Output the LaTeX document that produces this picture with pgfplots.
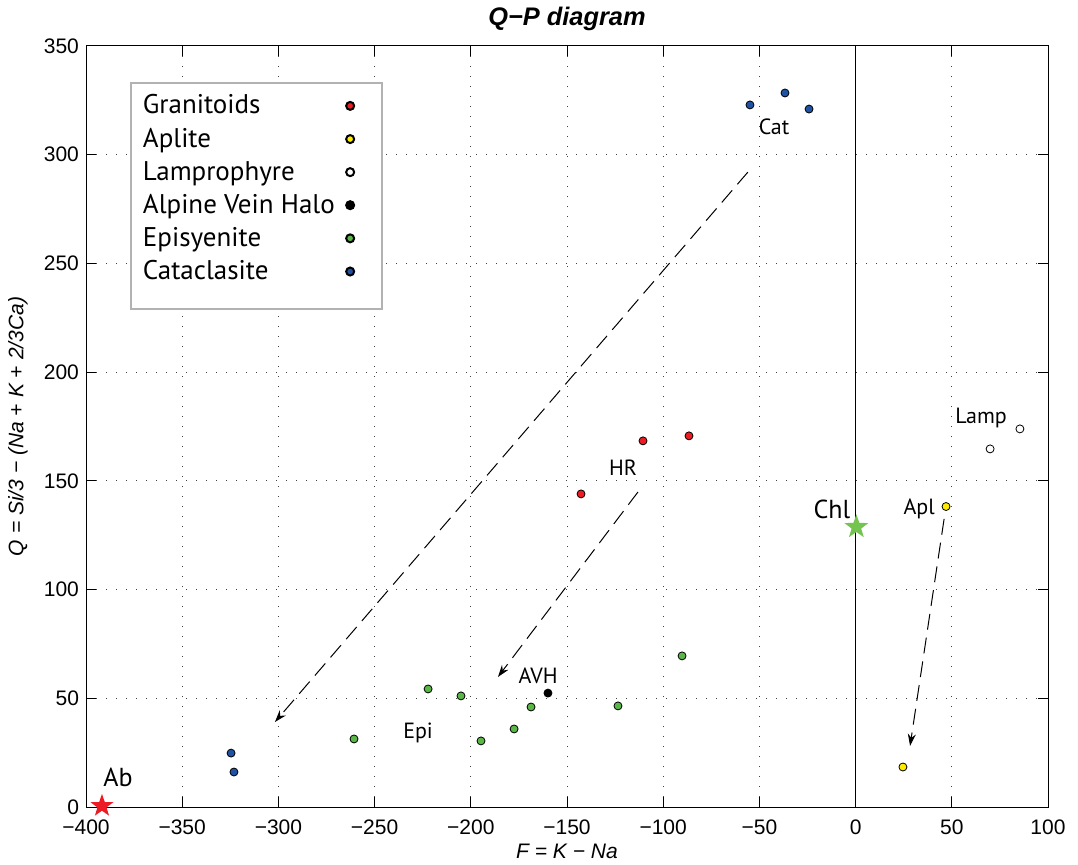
\documentclass[border=0pt]{standalone}
\usepackage{pgfplots}
\pgfplotsset{compat=1.18}
\usepackage{fontspec}
\setmainfont{Liberation Sans}
\newfontfamily\myr{PT Sans}
\usetikzlibrary{arrows.meta}
\definecolor{cred}{RGB}{237,28,36}
\definecolor{cyel}{RGB}{255,236,0}
\definecolor{cgrn}{RGB}{90,182,70}
\definecolor{cblu}{RGB}{32,82,164}
\definecolor{cstarg}{RGB}{118,196,80}
\pgfdeclareplotmark{fstar}{%
  \pgfpathmoveto{\pgfpointpolar{90}{\pgfplotmarksize}}%
  \pgfpathlineto{\pgfpointpolar{126}{0.40\pgfplotmarksize}}%
  \pgfpathlineto{\pgfpointpolar{162}{\pgfplotmarksize}}%
  \pgfpathlineto{\pgfpointpolar{198}{0.40\pgfplotmarksize}}%
  \pgfpathlineto{\pgfpointpolar{234}{\pgfplotmarksize}}%
  \pgfpathlineto{\pgfpointpolar{270}{0.40\pgfplotmarksize}}%
  \pgfpathlineto{\pgfpointpolar{306}{\pgfplotmarksize}}%
  \pgfpathlineto{\pgfpointpolar{342}{0.40\pgfplotmarksize}}%
  \pgfpathlineto{\pgfpointpolar{18}{\pgfplotmarksize}}%
  \pgfpathlineto{\pgfpointpolar{54}{0.40\pgfplotmarksize}}%
  \pgfpathclose
  \pgfusepathqfill}
\begin{document}
\begin{tikzpicture}
\begin{axis}[
  scale only axis,
  width=481pt, height=380.5pt,
  xmin=-400, xmax=100, ymin=0, ymax=350,
  clip=false,
  xtick={-400,-350,...,100},
  xticklabels={−400,−350,−300,−250,−200,−150,−100,−50,0,50,100},
  ytick={0,50,...,350},
  yticklabels={0,50,100,150,200,250,300,350},
  tick align=inside,
  major tick length=5pt,
  tick style={black, line width=0.5pt},
  axis line style={line width=0.5pt},
  ticklabel style={font=\fontsize{10.5}{12}\selectfont},
  xticklabel style={yshift=-3pt},
  grid=major,
  major grid style={black!75, line width=0.5pt, dash pattern=on 0.6pt off 4.4pt},
  every axis title shift=0pt,
  title={\fontsize{12.7}{14}\selectfont\bfseries\itshape Q−P diagram},
  title style={at={(axis description cs:0.5,1.0355)}, anchor=center},
  xlabel={\fontsize{10.5}{12}\selectfont\itshape F = K − Na},
  ylabel={\fontsize{10.5}{12}\selectfont\itshape Q = Si/3 − (Na + K + 2/3Ca)},
  xlabel style={at={(axis description cs:0.5,-0.0578)}, anchor=center},
  ylabel style={at={(axis description cs:-0.0707,0.5)}, anchor=center},
  legend plot pos=right,
  legend cell align=left,
  legend image code/.code={\path[draw=none,fill=none] (0cm,0cm) -- (0.62cm,0cm); \draw[#1, only marks] plot coordinates {(0.2cm,0cm)};},
  legend style={at={(rel axis cs:0.0457,0.953)}, anchor=north west,
    draw=black!30, line width=1pt, fill=white,
    font=\myr\fontsize{13.5}{16}\selectfont,
    inner xsep=4pt, inner ysep=4pt,
    row sep=1.5pt},
  every axis plot/.append style={only marks, mark=*, mark size=2pt, mark options={draw=black, line width=0.4pt}},
]
\addplot[mark options={fill=cred}] coordinates {(-142.7,144.0)(-110.5,168.4)(-86.6,170.7)};
\addlegendentry{Granitoids}
\addplot[mark options={fill=cyel}] coordinates {(47.0,138.2)(24.6,18.4)};
\addlegendentry{Aplite}
\addplot[mark options={fill=white}] coordinates {(69.9,164.7)(85.4,173.9)};
\addlegendentry{Lamprophyre}
\addplot[mark options={fill=black}] coordinates {(-159.9,52.4)};
\addlegendentry{Alpine Vein Halo}
\addplot[mark options={fill=cgrn}] coordinates {(-260.7,31.3)(-222.2,54.3)(-205.1,51.1)(-194.7,30.4)(-177.5,35.9)(-168.7,46.0)(-123.5,46.5)(-90.2,69.5)};
\addlegendentry{Episyenite}
\addplot[mark options={fill=cblu}] coordinates {(-324.6,24.8)(-323.1,16.1)(-54.9,322.9)(-36.7,328.4)(-24.2,321.0)};
\addlegendentry{Cataclasite}
\addlegendimage{empty legend}
\addlegendentry[font=\fontsize{7}{8}\selectfont]{}
% vertical line at F=0
\addplot[forget plot, no marks, black, line width=0.6pt, sharp plot] coordinates {(0,0)(0,350)};
% arrows
\addplot[forget plot, no marks, sharp plot, black, line width=0.5pt, dash pattern=on 8pt off 4pt, -{Stealth[length=6pt,width=4pt]}] coordinates {(-56,292)(-301.8,39.1)};
\addplot[forget plot, no marks, sharp plot, black, line width=0.5pt, dash pattern=on 8pt off 4pt, -{Stealth[length=6pt,width=4pt]}] coordinates {(-113.1,144.9)(-185.9,59.8)};
\addplot[forget plot, no marks, sharp plot, black, line width=0.5pt, dash pattern=on 8pt off 4pt, -{Stealth[length=6pt,width=4pt]}] coordinates {(46,132.5)(28.3,28.1)};
% end-members (stars)
\addplot[forget plot, only marks, mark=fstar, mark size=6pt, mark options={draw=none, fill=cred}] coordinates {(-391.7,0.5)};
\addplot[forget plot, only marks, mark=fstar, mark size=6.3pt, mark options={draw=none, fill=cstarg}] coordinates {(0.4,128.8)};
% annotations
\begin{scope}[every node/.style={font=\myr\fontsize{11}{13}\selectfont, anchor=center, inner sep=0pt}]
\node at (axis cs:-42.4,312.8) {Cat};
\node at (axis cs:65.2,178.9) {Lamp};
\node at (axis cs:33,137.1) {Apl};
\node at (axis cs:-120.9,155.9) {HR};
\node at (axis cs:-165,60.3) {AVH};
\node at (axis cs:-227.4,34) {Epi};
\node[font=\myr\fontsize{13}{15}\selectfont] at (axis cs:-12.3,137) {Chl};
\node[font=\myr\fontsize{13}{15}\selectfont] at (axis cs:-383.4,13.8) {Ab};
\end{scope}
\end{axis}
\pgfresetboundingbox
\path[use as bounding box] ([xshift=-43pt,yshift=-28.5pt]current axis.south west) rectangle ([xshift=15pt,yshift=23pt]current axis.north east);
\end{tikzpicture}
\end{document}
